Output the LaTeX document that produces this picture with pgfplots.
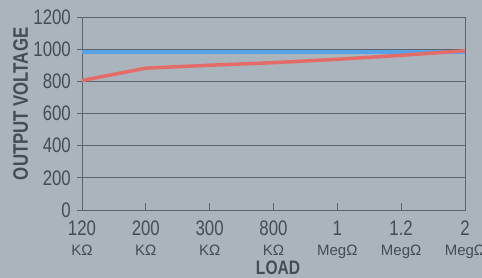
\documentclass[border=0pt]{standalone}
\usepackage{fontspec}
\setmainfont{Liberation Sans}[FakeStretch=0.8]
\newfontfamily\widefont{Liberation Sans}
\usepackage{pgfplots}
\pgfplotsset{compat=1.18}
\definecolor{bg}{RGB}{170,180,188}
\definecolor{txt}{RGB}{70,76,86}
\definecolor{gridc}{RGB}{92,99,107}
\definecolor{blueline}{RGB}{88,162,232}
\definecolor{redline}{RGB}{228,108,104}
\newcommand{\tl}[2]{#1\\[-2.5pt]{\widefont\fontsize{15}{16}\selectfont #2}}
\begin{document}
\begin{tikzpicture}
\fill[bg] (-82pt,-68pt) rectangle (400pt,210pt);
\begin{axis}[
  at={(0pt,0pt)}, anchor=south west,
  scale only axis, width=383pt, height=193pt,
  xmin=0, xmax=6, ymin=0, ymax=1200,
  xtick={0,1,2,3,4,5,6},
  xticklabels={\tl{120}{KΩ},\tl{200}{KΩ},\tl{300}{KΩ},\tl{800}{KΩ},\tl{1}{MegΩ},\tl{1.2}{MegΩ},\tl{2}{MegΩ}},
  ytick={0,200,400,600,800,1000,1200},
  /pgf/number format/1000 sep={},
  /pgf/number format/assume math mode=true,
  tick pos=left,
  tick align=inside,
  major tick length=7pt,
  y tick style={xshift=-5pt},
  tick style={gridc, line width=0.7pt},
  axis line style={gridc, line width=0.7pt},
  ymajorgrids,
  grid style={gridc, line width=0.7pt},
  xticklabel style={font=\fontsize{21}{22}\selectfont, text=txt, align=center, anchor=north, inner sep=0pt, yshift=-11pt},
  yticklabel style={font=\fontsize{21}{22}\selectfont, text=txt, anchor=east, inner sep=0pt, xshift=-11pt},
  ylabel={OUTPUT VOLTAGE},
  ylabel style={font=\fontsize{21}{22}\selectfont\bfseries, text=txt, at={(rel axis cs:-0.16,0.55)}, anchor=center},
  xlabel={LOAD},
  xlabel style={font=\fontsize{19.5}{22}\selectfont\bfseries, text=txt, at={(rel axis cs:0.512,-0.300)}, anchor=center},
  clip=false,
]
\addplot[blueline, line width=4pt] coordinates {(0,983) (1,983) (2,983) (3,983) (4,983) (5,983) (6,983)};
\addplot[redline, line width=3.5pt] coordinates {(0,805) (1,882) (2,900) (3,916) (4,937) (5,962) (6,990)};
\end{axis}
\pgfresetboundingbox
\path[use as bounding box] (-82pt,-68pt) rectangle (400pt,210pt);
\end{tikzpicture}
\end{document}
